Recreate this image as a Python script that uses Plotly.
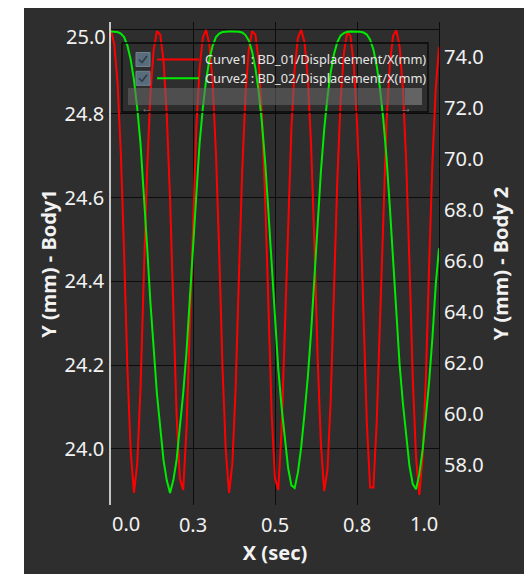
import plotly.graph_objects as go

# ---- data ----
time_s = [round(i * 0.01, 2) for i in range(101)]

body1_y = [
    25.000, 24.965, 24.873, 24.705, 24.467, 24.193, 23.995, 23.895, 23.965, 24.145,
    24.412, 24.663, 24.845, 24.952, 24.997, 24.989, 24.928, 24.798, 24.597, 24.327,
    24.081, 23.929, 23.902, 24.044, 24.271, 24.546, 24.764, 24.908, 24.982, 25.000,
    24.965, 24.873, 24.705, 24.467, 24.193, 23.995, 23.895, 23.965, 24.145, 24.412,
    24.663, 24.845, 24.952, 24.997, 24.989, 24.928, 24.798, 24.597, 24.327, 24.081,
    23.929, 23.902, 24.044, 24.271, 24.546, 24.764, 24.908, 24.982, 25.000, 24.971,
    24.886, 24.726, 24.494, 24.217, 24.011, 23.899, 23.951, 24.121, 24.383, 24.642,
    24.831, 24.945, 24.995, 24.986, 24.918, 24.781, 24.572, 24.299, 24.062, 23.908,
    23.908, 24.062, 24.299, 24.572, 24.781, 24.918, 24.986, 24.999, 24.960, 24.859,
    24.685, 24.440, 24.169, 23.980, 23.890, 23.980, 24.169, 24.440, 24.685, 24.859,
    24.960,
]

body2_y = [
    75.00, 75.00, 74.98, 74.92, 74.78, 74.45, 73.90, 73.10, 72.00, 70.60,
    68.80, 66.60, 64.40, 62.40, 60.80, 59.50, 58.20, 57.40, 56.90, 57.40,
    58.20, 59.50, 60.80, 62.40, 64.40, 66.60, 68.80, 70.60, 72.00, 73.10,
    73.90, 74.45, 74.78, 74.92, 74.98, 75.00, 75.00, 75.00, 75.00, 74.99,
    74.96, 74.86, 74.65, 74.23, 73.58, 72.66, 71.44, 69.88, 67.92, 65.72,
    63.60, 61.76, 60.28, 58.98, 57.88, 57.20, 57.10, 57.72, 58.72, 60.02,
    61.44, 63.20, 65.28, 67.48, 69.52, 71.16, 72.44, 73.42, 74.12, 74.58,
    74.84, 74.94, 74.99, 75.00, 75.00, 75.00, 74.99, 74.96, 74.88, 74.68,
    74.29, 73.66, 72.77, 71.58, 70.06, 68.14, 65.94, 63.80, 61.92, 60.41,
    59.11, 57.96, 57.25, 57.05, 57.64, 58.59, 59.89, 61.28, 63.00, 65.06,
    66.50,
]

x_tick_vals = [0.25, 0.5, 0.75, 1.0]
x_tick_text = ["0.3", "0.5", "0.8", ""]
x_edge_labels = ["0.0", "1.0"]
y1_tick_vals = [24.0, 24.2, 24.4, 24.6, 24.8, 25.0]
y1_tick_text = ["24.0", "24.2", "24.4", "24.6", "24.8", ""]
y1_top_label = "25.0"
y2_tick_vals = [58.0, 60.0, 62.0, 64.0, 66.0, 68.0, 70.0, 72.0, 74.0]
y2_tick_text = ["58.0", "60.0", "62.0", "64.0", "66.0", "68.0", "70.0", "72.0", "74.0"]

curve_names = ["Curve1 : BD_01/Displacement/X(mm)", "Curve2 : BD_02/Displacement/X(mm)"]
curve_colors = ["rgb(255,0,0)", "rgb(0,235,0)"]

# ---- geometry: the page adds an 8px body margin, so the figure is 8px smaller ----
W, H = 524, 566
L, R, T, B = 103, 93, 14, 69
PW, PH = W - L - R, H - T - B


def px(x):  # reference-picture pixel -> paper
    return (x - 8 - L) / PW


def py(y):
    return (H - B - (y - 8)) / PH


FONT = "Noto Sans"
TXT = "#f2f2f2"
BG = "#2e2e2e"

fig = go.Figure()
fig.add_trace(go.Scatter(x=time_s, y=body1_y, name=curve_names[0], mode="lines",
                         line=dict(color=curve_colors[0], width=2), yaxis="y"))
fig.add_trace(go.Scatter(x=time_s, y=body2_y, name=curve_names[1], mode="lines",
                         line=dict(color=curve_colors[1], width=2), yaxis="y2"))

shapes = [
    dict(type="rect", xref="paper", yref="paper", x0=px(24), x1=px(527), y0=py(576), y1=py(0),
         fillcolor=BG, line=dict(width=0), layer="below"),
    dict(type="line", xref="paper", yref="paper", x0=px(527), x1=px(527), y0=py(576), y1=py(0),
         line=dict(color="rgb(40,150,40)", width=1.5), layer="below"),
    # legend frame
    dict(type="rect", xref="paper", yref="paper", x0=px(122), x1=px(428), y0=py(112), y1=py(43),
         line=dict(color="#080808", width=1.3), fillcolor="rgba(0,0,0,0)", layer="above"),
    # scrollbar
    dict(type="rect", xref="paper", yref="paper", x0=px(128), x1=px(422), y0=py(105), y1=py(88),
         line=dict(width=0), fillcolor="rgba(105,105,105,0.55)", layer="above"),
    dict(type="rect", xref="paper", yref="paper", x0=px(405), x1=px(422), y0=py(105), y1=py(88),
         line=dict(width=0), fillcolor="rgba(140,140,140,0.35)", layer="above"),
]

annotations = []
for i, (name, col) in enumerate(zip(curve_names, curve_colors)):
    yc = 59.5 + i * 18.8
    shapes.append(dict(type="rect", xref="paper", yref="paper", x0=px(136), x1=px(150),
                       y0=py(yc + 7), y1=py(yc - 7), fillcolor="rgb(88,108,124)",
                       line=dict(color="rgb(110,130,145)", width=1), layer="above"))
    shapes.append(dict(type="path", xref="paper", yref="paper",
                       path=f"M {px(139)},{py(yc)} L {px(142)},{py(yc + 3)} L {px(147)},{py(yc - 3.5)}",
                       line=dict(color="rgb(45,60,72)", width=1.6), layer="above"))
    shapes.append(dict(type="line", xref="paper", yref="paper", x0=px(157), x1=px(199),
                       y0=py(yc), y1=py(yc), line=dict(color=col, width=2), layer="above"))
    annotations.append(dict(text=name, xref="paper", yref="paper", x=px(203), y=py(yc),
                            xanchor="left", yanchor="middle", showarrow=False,
                            font=dict(family=FONT, size=12.8, color="#e6e6e6")))

annotations += [
    dict(text="\u2190", xref="paper", yref="paper", x=px(139), y=py(96.5), showarrow=False,
         font=dict(family=FONT, size=12, color="#7a7a7a")),
    dict(text="\u2192", xref="paper", yref="paper", x=px(413.5), y=py(96.5), showarrow=False,
         font=dict(family=FONT, size=12, color="#8a8a8a")),
    dict(text=x_edge_labels[0], xref="x", yref="paper", x=0.0, y=py(523), xanchor="left",
         yanchor="middle", showarrow=False, xshift=-1,
         font=dict(family=FONT, size=20, color=TXT)),
    dict(text=x_edge_labels[1], xref="x", yref="paper", x=1.0, y=py(523), xanchor="right",
         yanchor="middle", showarrow=False, xshift=1,
         font=dict(family=FONT, size=20, color=TXT)),
    dict(text=y1_top_label, xref="paper", yref="paper", x=px(108), y=py(36.5), xanchor="right",
         yanchor="middle", showarrow=False,
         font=dict(family=FONT, size=20, color=TXT)),
]

fig.update_layout(
    width=W, height=H,
    margin=dict(l=L, r=R, t=T, b=B, pad=0, autoexpand=False),
    paper_bgcolor="white",
    plot_bgcolor="rgba(0,0,0,0)",
    showlegend=False,
    font=dict(family=FONT, size=20, color=TXT),
    shapes=shapes,
    annotations=annotations,
    xaxis=dict(
        range=[0, 1.0], tickvals=x_tick_vals, ticktext=x_tick_text, automargin=False,
        showgrid=True, gridcolor="#0c0c0c", gridwidth=1.2, zeroline=False, showline=False,
        ticks="", ticklabelstandoff=6, tickfont=dict(family=FONT, size=20, color=TXT),
        title=dict(text="X (sec)", standoff=8,
                   font=dict(family=FONT, size=20, color=TXT, weight="bold")),
    ),
    yaxis=dict(
        range=[23.866, 25.019], tickvals=y1_tick_vals, ticktext=y1_tick_text, automargin=False,
        showgrid=True, gridcolor="#0c0c0c", gridwidth=1.2, zeroline=False,
        showline=True, linecolor="#c4c4c4", linewidth=1.5,
        ticks="", ticklabelstandoff=1, tickfont=dict(family=FONT, size=20, color=TXT),
        title=dict(text="Y (mm) - Body1", standoff=3,
                   font=dict(family=FONT, size=20, color=TXT, weight="bold")),
    ),
    yaxis2=dict(
        range=[56.431, 75.373], tickvals=y2_tick_vals, ticktext=y2_tick_text, automargin=False,
        overlaying="y", side="right", showgrid=False, zeroline=False,
        showline=True, linecolor="#0c0c0c", linewidth=1.2,
        ticks="", ticklabelstandoff=0, tickfont=dict(family=FONT, size=20, color=TXT),
        title=dict(text="Y (mm) - Body 2", standoff=11,
                   font=dict(family=FONT, size=20, color=TXT, weight="bold")),
    ),
)

fig.write_html("out.html")
